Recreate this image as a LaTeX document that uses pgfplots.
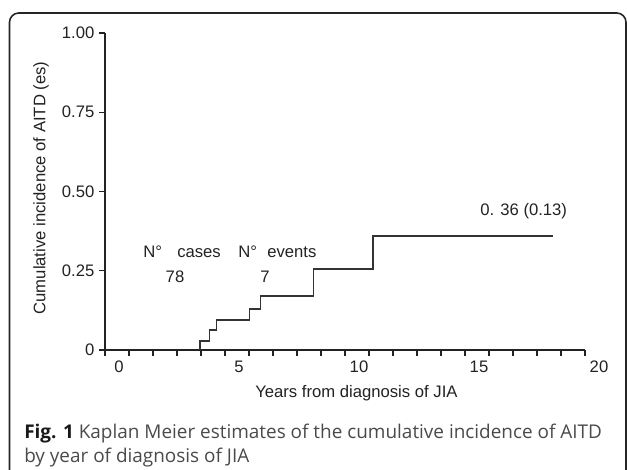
\documentclass[border=0pt]{standalone}
\usepackage{fontspec}
\setmainfont{Liberation Sans}
\newfontfamily\capfont{Open Sans}
\usepackage{pgfplots}
\pgfplotsset{compat=1.18}
\definecolor{inkdark}{HTML}{222222}
\definecolor{curvegray}{HTML}{333333}
\definecolor{capgray}{HTML}{4A4A4A}
\begin{document}
\begin{tikzpicture}[x=0.75pt,y=-0.75pt]
\path[use as bounding box] (0,0) rectangle (627,470);
\begin{scope}
  \clip (0,0) rectangle (627,470);
  \draw[line width=1.2pt, black!85, rounded corners=7pt] (9.5,13) rectangle (626,485);
\end{scope}
\begin{axis}[
  at={(78.75pt,-262.5pt)}, anchor=south west,
  width=360pt, height=237.75pt, scale only axis,
  xmin=0, xmax=20, ymin=0, ymax=1,
  axis lines*=left,
  axis line style={-, line width=1.2pt, inkdark},
  xtick={0,1,...,20},
  xticklabels={0,,,,,5,,,,,10,,,,,15,,,,,20},
  ytick={0,0.25,0.5,0.75,1},
  yticklabels={0,0.25,0.50,0.75,1.00},
  tick align=outside, major tick length=4.5pt,
  tick style={line width=1pt, inkdark},
  tick label style={font=\fontsize{12.5}{15}\selectfont, text=inkdark},
  xticklabel style={xshift=10.5pt},
  /pgf/number format/assume math mode=true,
  clip=false,
]
% Kaplan-Meier step curve
\addplot[const plot, line width=1.1pt, curvegray] coordinates {
  (3.96,0) (3.96,0.029) (4.35,0.063) (4.65,0.095) (6.01,0.130)
  (6.49,0.170) (8.68,0.255) (11.17,0.36) (18.67,0.36)
};
\end{axis}
\begin{scope}[every node/.style={inner sep=0, text=inkdark, font=\fontsize{12.5}{15}\selectfont}]
  \node[rotate=90] at (41,188) {Cumulative incidence of AITD (es)};
  \node[anchor=base west] at (255,397) {Years from diagnosis of JIA};
  \node[anchor=base west] at (143,257) {N°};
  \node[anchor=base west] at (177,257) {cases};
  \node[anchor=base west] at (238,257) {N°};
  \node[anchor=base west] at (267,257) {events};
  \node[anchor=base] at (175,282) {78};
  \node[anchor=base] at (265,282) {7};
  \node[anchor=base west] at (480,215) {0. 36 (0.13)};
\end{scope}
\begin{scope}[every node/.style={inner sep=0, anchor=base west, text=capgray, font=\capfont\fontsize{14.2}{18}\selectfont}]
  \node at (24,438) {\textcolor{black!90}{\bfseries Fig. 1} Kaplan Meier estimates of the cumulative incidence of AITD};
  \node at (24,462) {by year of diagnosis of JIA};
\end{scope}
\end{tikzpicture}
\end{document}
